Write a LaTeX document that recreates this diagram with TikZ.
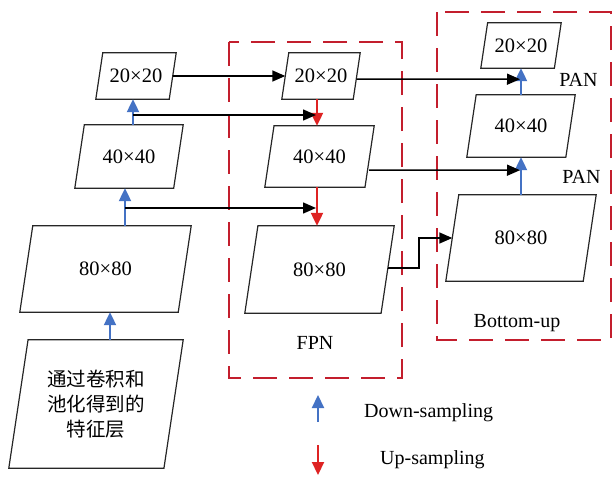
\documentclass[tikz,border=0pt]{standalone}
\usepackage{fontspec}
\setmainfont{Liberation Serif}
\newfontfamily\cjk{Noto Sans CJK SC}
\usepackage{xcolor}
\usepackage{tikz}
\usetikzlibrary{arrows.meta,calc}
\definecolor{dsblue}{RGB}{68,114,196}
\definecolor{usred}{RGB}{222,35,35}
\definecolor{groupred}{RGB}{195,30,45}

\begin{document}
\begin{tikzpicture}[x=1pt, y=-1pt,
    feat/.style={inner sep=0pt, font=\fontsize{20.5}{25}\selectfont},
    frame/.style={draw=black!85, line width=1.2pt},
    group/.style={draw=groupred, line width=2.2pt, dash pattern=on 24pt off 12pt},
    dsarrow/.style={draw=dsblue, line width=2.2pt, -{Triangle[length=13pt,width=12pt]}},
    usarrow/.style={draw=usred, line width=2.2pt, -{Triangle[length=13pt,width=12pt]}},
    link/.style={draw=black, line width=1.5pt, -{Triangle[length=13pt,width=11pt]}},
    lbl/.style={inner sep=0pt, font=\fontsize{20}{24}\selectfont}]
    \useasboundingbox (0,0) rectangle (614,477);
    % dashed groups
    \draw[group] (229,42) rectangle (402,378);
    \draw[group] (437,12) rectangle (611,340);
    % backbone
    \node[feat, minimum width=174pt, minimum height=128pt, align=center,
          font=\cjk\fontsize{19.5}{25}\selectfont] (bb) at (96,404) {通过卷积和\\池化得到的\\特征层};
    \node[feat, minimum width=171pt, minimum height=86pt] (b80) at (105.5,269) {80×80};
    \node[feat, minimum width=108pt, minimum height=63pt] (b40) at (129,156.5) {40×40};
    \node[feat, minimum width=80pt, minimum height=46pt] (b20) at (136,76) {20×20};
    % FPN
    \node[feat, minimum width=78pt, minimum height=46pt] (f20) at (321,76) {20×20};
    \node[feat, minimum width=109pt, minimum height=61pt] (f40) at (319.5,156.5) {40×40};
    \node[feat, minimum width=149pt, minimum height=87pt] (f80) at (319.5,269.5) {80×80};
    % PAN
    \node[feat, minimum width=80pt, minimum height=45pt] (p20) at (521,45.5) {20×20};
    \node[feat, minimum width=108pt, minimum height=62pt] (p40) at (521,126) {40×40};
    \node[feat, minimum width=150pt, minimum height=86pt] (p80) at (521,238) {80×80};
    \foreach \n in {bb,b80,b40,b20,f20,f40,f80,p20,p40,p80}
      \draw[frame] (\n.south west) -- ($(\n.north west)!0.15!90:(\n.south west)$)
        -- (\n.north east) -- ($(\n.south east)!0.15!90:(\n.north east)$) -- cycle;
    % labels
    \node[lbl] (fpn) at (315,342.5) {FPN};
    \node[lbl] (bottomup) at (517,323) {Bottom-up};
    \node[lbl] (pan1) at (578.5,80) {PAN};
    \node[lbl] (pan2) at (581.5,177) {PAN};
    % sampling
    \draw[dsarrow] ($(bb.north)+(14,0)$) -- ($(b80.south)+(4.5,0)$);
    \draw[dsarrow] ($(b80.north)+(19.5,0)$) -- ($(b40.south)+(-4,0)$);
    \draw[dsarrow] ($(b40.north)+(4,0)$) -- ($(b20.south)+(-3,0)$);
    \draw[usarrow] ($(f20.south)+(-4,0)$) -- ($(f40.north)+(-2.5,0)$);
    \draw[usarrow] ($(f40.south)+(-2.5,0)$) -- ($(f80.north)+(-2.5,0)$);
    \draw[dsarrow] (p80.north) -- (p40.south);
    \draw[dsarrow] (p40.north) -- (p20.south);
    % lateral links
    \coordinate (j40) at (133,115);
    \coordinate (j80) at (125,208);
    \coordinate (m40) at (316,115);
    \coordinate (m80) at (316,208);
    \draw[link] ($(b20.east)+(-3.5,0)$) -- ($(f20.west)+(3.5,0)$);
    \draw[link] (j40) -- (m40);
    \draw[link] (j80) -- (m80);
    \draw[link] ($(f20.east)+(-3.5,3)$) -- ($(p20.south)+(-1,11)$);
    \draw[link] ($(f40.east)+(-5,13.5)$) -- ($(p40.south)+(-1,13)$);
    \draw[link] ($(f80.east)+(-6,-1.5)$) -- ++(31,0) |- ($(p80.west)+(6.5,0)$);
    % legend
    \coordinate (dsa) at (318,422);
    \coordinate (dsb) at (318,395);
    \coordinate (usa) at (318,445);
    \coordinate (usb) at (318,475);
    \draw[dsarrow] (dsa) -- (dsb);
    \draw[usarrow] (usa) -- (usb);
    \node[lbl, anchor=west] (dslbl) at (364,412.5) {Down-sampling};
    \node[lbl, anchor=west] (uslbl) at (380,460) {Up-sampling};
\end{tikzpicture}
\end{document}
